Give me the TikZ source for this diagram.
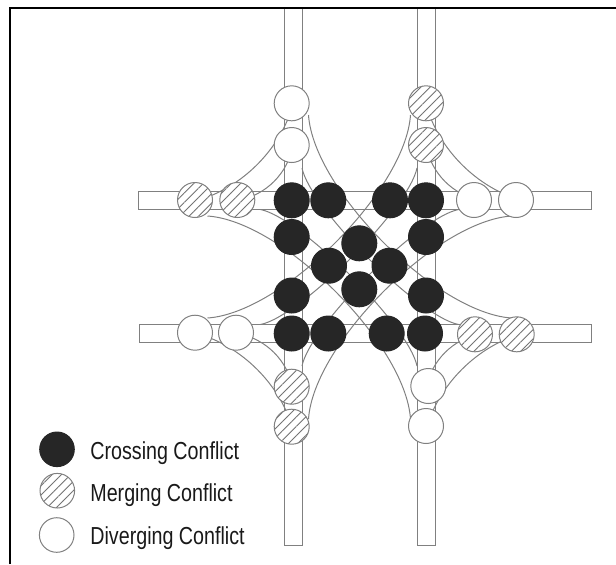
\documentclass[tikz,border=0pt]{standalone}
\usepackage{fontspec}
\newfontfamily\legendfont{Liberation Sans}[FakeStretch=0.8]
\usetikzlibrary{patterns.meta}

\tikzset{
  road/.style={draw=black!50, line width=.5pt},
  conflict/.style={circle, draw=black!50, line width=.5pt, minimum size=17.5pt, inner sep=0pt},
  crossing/.style={conflict, draw=black!85, fill=black!85},
  merging/.style={conflict, preaction={fill=white}, pattern={Lines[angle=45,distance=3.3pt,line width=.45pt]}, pattern color=black!55},
  diverging/.style={conflict, fill=white},
  legendtext/.style={anchor=base west, inner sep=0pt, text=black!90, font=\legendfont\fontsize{12.3}{14}\selectfont}
}

\begin{document}
\begin{tikzpicture}[x=.5pt, y=-.5pt]
\useasboundingbox (0,0) rectangle (616,564);

% turning lanes, one quadrant turned four times
\foreach \a in {0,90,180,270} {
  \begin{scope}[shift={(359.5,267)}, rotate=\a]
    % right turn
    \draw[road] (-66.5,-163) .. controls +(-12,45) and +(45,-12) .. (-163,-66.5);
    \draw[road] (-66.5,-121) .. controls +(-6,28) and +(28,-6) .. (-121,-66.5);
    % left turn
    \draw[road] (-51,-152) .. controls +(5,75) and +(-75,-5) .. (152,51);
    \draw[road] (-57.5,-99) .. controls +(8,40) and +(-40,-8) .. (99,57.5);
  \end{scope}
}

% through lanes
\draw[road] (284,8) rectangle (302,545);
\draw[road] (417,8) rectangle (435,545);
\draw[road] (138,191.5) rectangle (591.5,209.5);
\draw[road] (139,324.5) rectangle (591,342.5);

% conflict points
\foreach \x/\y [count=\i] in {291.7/200.3, 328.3/200.3, 390/200.3, 426/200.3,
    291.7/237, 426/237, 359.3/243.3, 329/265.7, 389.5/265.7, 359.3/289.3,
    291.7/295.5, 426/295.5, 291.7/333.5, 328.3/333.5, 386.7/333.5, 425/333.5}
  \node[crossing] (cr\i) at (\x,\y) {};
\foreach \x/\y [count=\i] in {195/200, 237.3/200, 426/103.3, 426/145,
    475/334.3, 516.7/334.3, 291.7/386.7, 291.7/426.7}
  \node[merging] (mg\i) at (\x,\y) {};
\foreach \x/\y [count=\i] in {291.7/103.3, 291.7/145, 474/200, 516/200,
    428.3/386, 426/426, 195/332.7, 236/332.7}
  \node[diverging] (dv\i) at (\x,\y) {};

% legend
\node[crossing, minimum size=17.3pt] (legCross) at (57,449.3) {};
\node[merging, minimum size=17.3pt] (legMerge) at (57.3,490.7) {};
\node[diverging, minimum size=17.3pt] (legDiverge) at (56.7,535) {};
\node[legendtext] (txtCross) at (90,459.3) {Crossing Conflict};
\node[legendtext] (txtMerge) at (90,501.7) {Merging Conflict};
\node[legendtext] (txtDiverge) at (90,544) {Diverging Conflict};

% frame
\draw[line width=1.25pt] (10,564) -- (10,8) -- (616,8);
\end{tikzpicture}
\end{document}
